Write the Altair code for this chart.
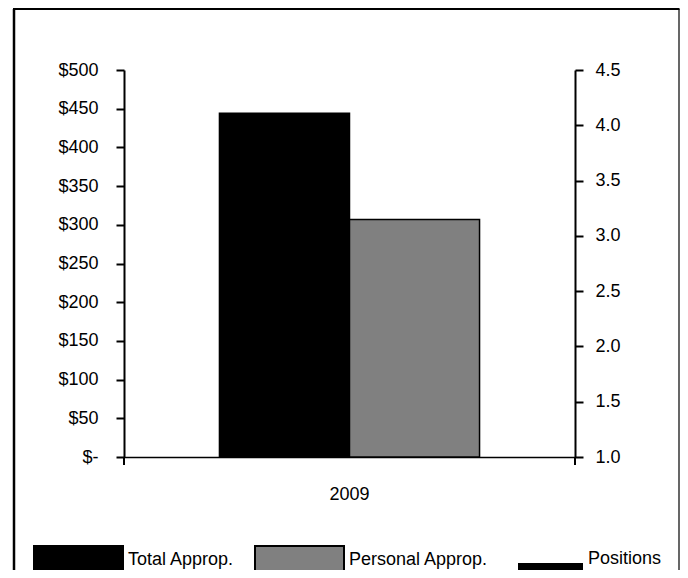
import altair as alt
import pandas as pd

# ---- data ----
years = ["2009"]
bar_series = ["Total Approp.", "Personal Approp."]
line_series = ["Positions"]
approp_values = [444, 307]
positions_values = []          # no visible Positions line in the reference
left_ticks = [0, 50, 100, 150, 200, 250, 300, 350, 400, 450, 500]
right_ticks = [1.0, 1.5, 2.0, 2.5, 3.0, 3.5, 4.0, 4.5]

bars_df = pd.DataFrame({
    "year": [years[0]] * len(bar_series),
    "series": bar_series,
    "value": approp_values,
})
pos_df = pd.DataFrame({
    "year": pd.Series([years[0]] * len(positions_values), dtype="object"),
    "series": pd.Series(line_series * len(positions_values), dtype="object"),
    "positions": pd.Series(positions_values, dtype="float"),
})

FONT = "Liberation Sans"
FS = 18
W, H = 451, 387

rect_path = "M-1,-0.303H1V0.303H-1Z"
line_path = "M-1,0.14H1V0.385H-1Z"

bars = alt.Chart(bars_df).mark_bar(stroke="black", strokeWidth=1.5).encode(
    x=alt.X("year:N", title=None,
            scale=alt.Scale(paddingInner=0, paddingOuter=0.367),
            axis=alt.Axis(labelAngle=0, ticks=False, domainColor="black",
                          domainWidth=1.5, labelPadding=28)),
    xOffset=alt.XOffset("series:N", sort=bar_series,
                        scale=alt.Scale(paddingInner=0, paddingOuter=0)),
    y=alt.Y("value:Q", title=None,
            scale=alt.Scale(domain=[0, 500], nice=False),
            axis=alt.Axis(values=left_ticks, orient="left",
                          labelExpr="datum.value == 0 ? '$-' : '$' + datum.value",
                          domainColor="black", domainWidth=2, tickColor="black",
                          tickWidth=2, tickSize=8, labelPadding=18, grid=False)),
    color=alt.Color("series:N",
                    scale=alt.Scale(domain=bar_series, range=["#000000", "#808080"]),
                    legend=alt.Legend(
                        title=None, orient="none", legendX=-91, legendY=444,
                        direction="horizontal", symbolType=rect_path,
                        symbolSize=7921, symbolStrokeColor="black",
                        symbolStrokeWidth=2, symbolOpacity=1,
                        labelFont=FONT, labelFontSize=FS, labelColor="black",
                        labelOffset=4, columnPadding=16, padding=0)),
)

positions = alt.Chart(pos_df).mark_line(strokeWidth=3).encode(
    x=alt.X("year:N"),
    y=alt.Y("positions:Q", title=None,
            scale=alt.Scale(domain=[1.0, 4.5], nice=False, zero=False),
            axis=alt.Axis(values=right_ticks, orient="right", format=".1f",
                          domainColor="black", domainWidth=2, tickColor="black",
                          tickWidth=2, tickSize=8, labelPadding=12, grid=False)),
    stroke=alt.Stroke("series:N",
                      scale=alt.Scale(domain=line_series, range=["#000000"]),
                      legend=alt.Legend(
                          title=None, orient="none", legendX=394, legendY=456,
                          symbolType=line_path, symbolSize=4225,
                          symbolFillColor="black", symbolStrokeColor="black",
                          symbolStrokeWidth=0, symbolOpacity=1,
                          labelFont=FONT, labelFontSize=FS, labelColor="black",
                          labelOffset=5, padding=0)),
)

one = pd.DataFrame({"k": [0]})
edge_ticks = alt.Chart(one).mark_rule(color="black", strokeWidth=2).encode(
    x=alt.value(0), y=alt.value(H), y2=alt.value(H + 8))
edge_ticks2 = alt.Chart(one).mark_rule(color="black", strokeWidth=2).encode(
    x=alt.value(W), y=alt.value(H), y2=alt.value(H + 8))
frame_left = alt.Chart(one).mark_rule(color="black", strokeWidth=2.5).encode(
    x=alt.value(-110), y=alt.value(-61), y2=alt.value(520))
frame_right = alt.Chart(one).mark_rule(color="black", strokeWidth=1.2).encode(
    x=alt.value(555), y=alt.value(-61), y2=alt.value(520))
frame_top = alt.Chart(one).mark_rule(color="black", strokeWidth=2).encode(
    x=alt.value(-111), x2=alt.value(555.5), y=alt.value(-61))

chart = alt.layer(
    bars, positions, edge_ticks, edge_ticks2, frame_left, frame_right, frame_top
).resolve_scale(y="independent").properties(
    width=W, height=H,
    autosize=alt.AutoSizeParams(type="none"),
    padding={"left": 116, "top": 62, "right": 105, "bottom": 113},
    background="white",
).configure_view(stroke=None).configure_axis(
    labelFont=FONT, labelFontSize=FS, labelColor="black",
)

chart.save("out.html", embed_options={"renderer": "svg", "actions": False})
